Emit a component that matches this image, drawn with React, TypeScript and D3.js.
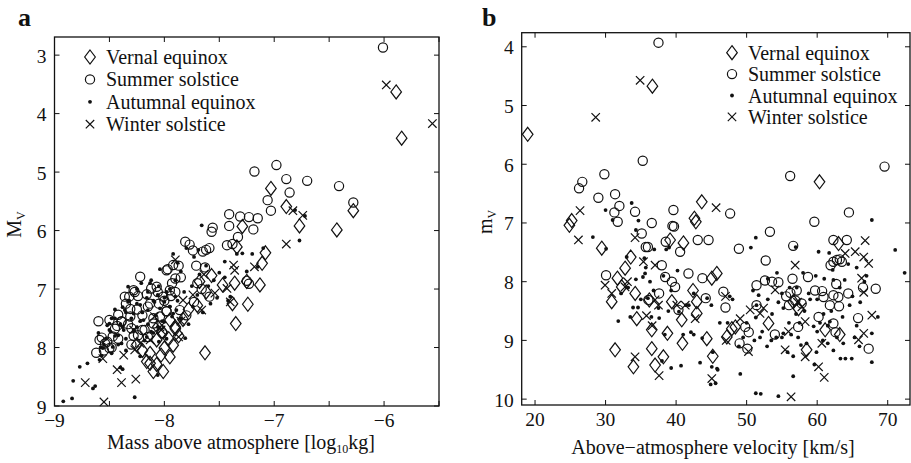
import React from "react";
import * as d3 from "d3";

type Pt = [number, number];

// panel a: mass above atmosphere [log10 kg] vs absolute magnitude M_V
const vernalA: Pt[] = [
  [-5.89, 3.63], [-5.84, 4.42], [-7.03, 5.28], [-6.89, 5.59], [-6.28, 5.66], [-6.77, 5.92], [-6.43, 5.99],
  [-7.08, 6.38], [-7.11, 6.56], [-7.13, 6.93], [-7.25, 6.87], [-7.36, 6.9], [-7.24, 7.26], [-7.38, 7.25],
  [-7.35, 7.59], [-7.63, 8.09], [-7.29, 5.93], [-7.34, 6.28], [-7.47, 6.93], [-7.57, 6.77], [-7.68, 6.87],
  [-7.62, 7.05], [-8.16, 8.24], [-8.1, 8.41], [-8.01, 8.41], [-8.03, 8.13], [-8.13, 8.1], [-7.92, 7.96],
  [-8.02, 7.73], [-7.96, 7.85], [-8.2, 8.05], [-8.07, 8.29], [-7.87, 7.8], [-7.83, 7.52], [-7.9, 7.68],
  [-7.78, 7.35], [-7.7, 7.28], [-8.25, 7.95], [-8.06, 7.65], [-7.95, 7.53], [-7.9, 7.65], [-8.07, 7.87],
  [-8.0, 8.01], [-8.13, 8.27], [-7.95, 8.16],
];
const summerA: Pt[] = [
  [-6.01, 2.87], [-6.41, 5.24], [-6.28, 5.52], [-6.7, 5.15], [-6.89, 5.12], [-6.86, 5.35], [-6.98, 4.88],
  [-7.18, 4.99], [-7.03, 5.66], [-7.06, 5.48], [-7.15, 5.79], [-7.23, 5.77], [-7.31, 5.76], [-7.41, 5.72],
  [-7.19, 5.98], [-7.41, 5.92], [-7.56, 5.95], [-7.57, 6.02], [-7.33, 6.11], [-7.38, 6.23], [-7.43, 6.25],
  [-7.62, 6.33], [-7.59, 6.3], [-7.65, 6.36], [-7.81, 6.19], [-7.77, 6.24], [-7.74, 6.34], [-7.63, 6.63],
  [-7.71, 6.6], [-7.87, 6.6], [-7.97, 6.66], [-8.22, 6.79], [-7.25, 6.86], [-7.23, 6.91], [-7.59, 7.13],
  [-7.86, 7.36], [-7.73, 7.22], [-7.8, 7.45], [-8.62, 8.09], [-8.57, 7.83], [-8.5, 7.53], [-8.42, 7.44],
  [-8.31, 7.34], [-8.28, 7.02], [-8.24, 7.12], [-8.12, 6.99], [-8.06, 7.05], [-7.98, 6.68], [-7.93, 6.9],
  [-7.98, 7.38], [-8.05, 7.25], [-8.15, 7.3], [-8.1, 7.5], [-8.36, 7.13], [-8.39, 7.55], [-8.45, 7.68],
  [-8.33, 7.6], [-8.52, 7.9], [-8.48, 8.0], [-8.42, 7.85], [-8.55, 8.05], [-8.28, 7.8], [-8.2, 7.7],
  [-8.15, 7.82], [-8.3, 7.95], [-7.94, 7.12], [-8.6, 7.55], [-8.02, 7.75], [-7.9, 7.05], [-8.0, 7.2],
  [-7.85, 6.8], [-8.35, 7.25], [-8.2, 7.45], [-7.7, 6.9], [-7.66, 7.0], [-8.32, 7.13], [-8.25, 7.35],
  [-8.16, 7.09], [-8.13, 7.25], [-8.07, 6.96], [-8.01, 7.13], [-7.95, 7.02], [-7.9, 6.82], [-7.92, 6.59],
  [-8.43, 7.63], [-8.39, 7.56], [-8.47, 7.81], [-8.54, 7.93], [-8.5, 8.01], [-8.59, 7.87], [-8.3, 7.67],
  [-8.24, 7.79], [-8.18, 7.7], [-8.1, 7.59], [-8.04, 7.47], [-7.98, 7.38], [-8.27, 7.05], [-8.31, 7.47],
];
const autumnalA: Pt[] = [
  [-6.77, 6.17], [-6.81, 5.65], [-6.72, 5.75], [-7.66, 5.91], [-8.92, 8.92], [-8.84, 8.87], [-8.83, 8.57],
  [-8.77, 8.33], [-8.7, 8.27], [-8.65, 8.7], [-8.63, 8.66], [-8.59, 8.21], [-8.57, 8.14], [-8.27, 8.85],
  [-8.4, 8.34], [-8.38, 8.37], [-8.06, 8.47], [-8.04, 6.66], [-7.92, 6.4], [-8.21, 6.9], [-8.38, 7.31],
  [-7.45, 6.53], [-7.29, 6.39], [-7.34, 6.4], [-7.69, 6.33], [-7.4, 7.13], [-7.42, 7.2], [-7.65, 7.4],
  [-7.74, 7.3], [-7.81, 7.84], [-7.78, 7.6], [-7.85, 7.5], [-7.5, 6.72], [-7.55, 6.85], [-7.6, 6.95],
  [-7.73, 6.45], [-7.8, 6.3], [-7.85, 6.7], [-7.9, 6.85], [-7.95, 7.0], [-8.0, 7.15], [-8.05, 6.95],
  [-8.1, 7.2], [-8.15, 7.05], [-8.2, 7.4], [-8.25, 7.25], [-8.3, 7.5], [-8.35, 7.4], [-8.4, 7.6],
  [-8.45, 7.8], [-8.5, 7.7], [-8.55, 7.95], [-8.48, 8.1], [-8.42, 7.95], [-8.35, 7.85], [-8.28, 7.7],
  [-8.22, 7.55], [-8.15, 7.6], [-8.08, 7.45], [-8.02, 7.55], [-7.95, 7.3], [-7.88, 7.2], [-7.82, 7.05],
  [-7.75, 6.95], [-7.68, 6.75], [-7.62, 6.6], [-7.98, 7.85], [-8.1, 7.75], [-8.18, 7.88], [-8.32, 7.2],
  [-8.45, 7.35], [-8.6, 7.75], [-8.58, 8.0], [-8.52, 7.62], [-8.12, 6.85], [-8.25, 7.0], [-7.88, 6.55],
  [-7.7, 7.1], [-7.58, 7.25], [-7.52, 7.15], [-7.45, 6.8], [-7.2, 6.4], [-7.15, 6.62], [-7.25, 6.7],
  [-7.1, 6.3], [-7.98, 7.05], [-8.06, 7.1], [-8.16, 7.15], [-8.38, 7.65], [-8.05, 7.9], [-7.92, 7.42],
  [-8.48, 7.5], [-8.35, 8.05], [-8.22, 8.15], [-8.33, 7.22], [-8.28, 7.42], [-8.22, 7.27], [-8.19, 7.53],
  [-8.15, 7.36], [-8.09, 7.22], [-8.04, 7.33], [-8.0, 7.22], [-7.95, 7.3], [-7.9, 7.13], [-8.37, 7.7],
  [-8.42, 7.79], [-8.49, 7.73], [-8.53, 7.85], [-8.56, 8.01], [-8.47, 7.99], [-8.39, 7.93], [-8.25, 7.65],
  [-8.16, 7.82], [-8.12, 7.73], [-8.06, 7.65], [-8.0, 7.56], [-7.93, 7.47], [-7.89, 7.36], [-8.33, 6.96],
  [-8.13, 6.9], [-8.36, 7.36], [-8.45, 7.5], [-8.5, 7.59],
];
const winterA: Pt[] = [
  [-5.98, 3.51], [-5.56, 4.17], [-6.74, 5.74], [-6.83, 5.66], [-6.89, 6.23], [-7.18, 6.62], [-7.37, 6.59],
  [-7.36, 6.68], [-7.4, 7.22], [-7.43, 6.99], [-7.54, 7.07], [-7.66, 7.36], [-7.83, 7.19], [-7.87, 7.82],
  [-7.85, 7.55], [-7.9, 6.5], [-8.26, 8.54], [-8.39, 8.6], [-8.43, 8.38], [-8.37, 8.13], [-8.56, 8.19],
  [-8.72, 8.6], [-8.55, 8.93], [-8.27, 8.04], [-8.03, 7.7], [-8.09, 7.47], [-7.64, 6.75], [-7.74, 7.1],
  [-8.13, 7.87], [-8.28, 7.7], [-8.22, 7.93], [-8.04, 7.65],
];

// panel b: above-atmosphere velocity [km/s] vs apparent magnitude m_V
const vernalB: Pt[] = [
  [18.96, 5.49], [36.64, 4.67], [24.87, 7.04], [25.2, 6.96], [29.46, 7.43], [43.64, 6.64], [42.6, 6.92],
  [42.8, 6.98], [41.04, 7.34], [39.15, 7.29], [33.57, 7.58], [32.77, 7.77], [31.68, 7.94], [30.87, 8.34],
  [32.29, 8.09], [34.2, 8.2], [34.42, 8.63], [31.35, 9.16], [33.95, 9.45], [36.55, 8.82], [36.55, 9.14],
  [37.02, 9.42], [38.2, 9.28], [38.77, 8.88], [39.39, 8.34], [40.8, 8.65], [40.9, 9.05], [44.35, 8.97],
  [45.2, 9.27], [42.93, 8.54], [42.93, 8.34], [45.06, 7.94], [45.77, 7.86], [47.19, 8.94], [47.9, 8.8],
  [36.2, 8.31], [53.1, 8.71], [60.33, 6.3], [63.03, 7.35], [61.13, 8.82], [58.5, 9.16], [56.6, 8.34],
  [57.35, 8.46], [48.4, 8.77], [42.4, 8.15], [63.2, 8.9],
];
const summerB: Pt[] = [
  [37.5, 3.93], [35.27, 5.94], [29.83, 6.17], [26.7, 6.3], [26.24, 6.41], [28.98, 6.57], [31.35, 6.51],
  [31.96, 6.71], [31.25, 6.82], [31.72, 6.98], [34.18, 6.81], [36.55, 7.0], [39.62, 6.78], [39.48, 7.05],
  [39.7, 7.06], [35.13, 7.18], [35.7, 7.41], [36.0, 7.41], [38.53, 7.32], [40.57, 7.49], [43.07, 7.29],
  [44.6, 7.29], [47.66, 6.84], [37.97, 7.72], [38.45, 7.92], [39.4, 8.0], [39.86, 8.09], [41.75, 7.86],
  [43.73, 7.94], [44.2, 8.28], [37.59, 8.2], [36.07, 8.31], [30.07, 7.89], [40.33, 8.48], [46.7, 8.17],
  [47.0, 8.44], [48.9, 7.44], [52.7, 7.64], [53.3, 7.15], [49.8, 8.77], [50.3, 8.86], [50.1, 9.14],
  [49.0, 9.05], [54.0, 8.9], [51.4, 8.06], [52.6, 7.98], [53.6, 8.0], [54.5, 8.01], [51.4, 8.4],
  [56.17, 6.2], [56.6, 7.39], [56.5, 7.95], [58.7, 7.92], [59.6, 6.98], [64.5, 6.82], [69.55, 6.04],
  [62.3, 7.29], [64.2, 7.29], [62.3, 7.66], [62.8, 7.63], [63.2, 7.62], [61.9, 7.72], [63.5, 7.66],
  [62.7, 8.04], [56.2, 8.19], [57.1, 8.15], [56.9, 8.32], [57.8, 8.37], [59.7, 8.15], [60.7, 8.16],
  [60.9, 8.26], [62.3, 8.23], [63.0, 8.26], [61.8, 8.4], [63.1, 8.42], [64.4, 8.2], [66.5, 8.1],
  [68.3, 8.12], [65.8, 8.62], [67.3, 9.14], [62.6, 8.86], [62.3, 8.71], [60.2, 8.6], [57.3, 8.77],
  [55.6, 8.25], [56.0, 8.4],
];
const autumnalB: Pt[] = [
  [33.7, 6.66], [34.66, 6.96], [28.2, 7.24], [30.07, 7.44], [34.3, 7.12], [33.0, 7.58], [35.7, 7.76],
  [35.3, 7.92], [35.6, 7.86], [34.3, 7.96], [36.3, 8.0], [40.2, 7.81], [36.8, 8.15], [36.0, 8.28],
  [35.0, 8.3], [34.6, 8.44], [33.9, 8.44], [37.6, 8.62], [40.4, 8.51], [41.4, 8.4], [41.8, 8.4],
  [42.5, 8.2], [31.8, 8.67], [42.1, 8.86], [42.5, 8.9], [43.7, 8.96], [45.0, 8.4], [44.4, 8.28],
  [45.2, 9.2], [43.4, 9.38], [39.3, 9.47], [40.7, 9.43], [45.06, 9.45], [45.8, 9.48], [44.9, 9.75],
  [45.6, 9.73], [38.0, 9.35], [38.4, 8.9], [33.2, 8.1], [32.2, 8.2], [38.9, 8.5], [39.3, 8.15],
  [38.2, 7.9], [36.9, 7.45], [30.0, 6.78], [31.0, 6.95], [39.0, 7.42], [38.6, 7.45], [37.5, 8.45],
  [35.5, 7.6], [33.5, 8.6], [36.5, 8.6], [41.0, 8.9], [51.3, 7.25], [50.6, 7.42], [56.95, 7.41],
  [60.2, 7.49], [61.7, 7.51], [67.75, 6.95], [71.06, 7.46], [72.4, 7.85], [63.9, 7.97], [62.3, 7.97],
  [65.6, 7.76], [51.7, 8.23], [53.0, 8.3], [55.0, 8.2], [54.5, 8.35], [56.1, 8.1], [51.4, 8.4],
  [51.3, 8.61], [51.1, 9.0], [51.9, 8.95], [55.2, 8.88], [56.3, 8.9], [56.6, 9.27], [57.7, 9.08],
  [56.6, 9.61], [59.6, 9.41], [60.8, 9.0], [62.3, 9.17], [63.3, 9.31], [64.0, 9.31], [64.9, 9.31],
  [67.75, 9.37], [68.6, 8.6], [67.75, 8.88], [59.5, 8.76], [60.0, 8.85], [61.8, 8.68], [63.7, 9.05],
  [65.3, 8.95], [49.1, 9.57], [51.3, 9.9], [52.0, 9.91], [54.5, 9.95], [45.9, 9.5], [53.5, 9.0],
  [54.2, 8.95], [55.0, 8.95], [52.9, 9.1], [53.6, 8.55], [52.2, 8.85], [57.0, 8.55], [57.5, 8.7],
  [58.2, 8.5], [59.0, 8.3], [58.8, 8.2], [60.0, 8.3], [60.9, 8.55], [61.5, 8.75], [62.0, 8.5],
  [60.4, 8.7], [63.6, 8.6], [64.6, 8.4], [65.0, 8.25], [66.1, 8.35], [65.6, 8.75], [63.2, 8.1],
  [59.8, 7.9], [58.0, 7.85], [61.0, 7.95], [62.2, 7.8], [64.4, 7.7], [67.0, 7.9], [66.7, 8.0],
  [57.3, 8.95], [56.0, 8.7], [55.2, 8.45], [58.5, 9.05], [61.5, 9.05], [59.9, 9.2], [66.0, 9.1],
  [53.0, 7.95], [50.9, 8.15], [50.0, 8.7], [49.5, 8.95], [48.0, 8.3], [47.6, 8.25], [48.9, 9.1],
  [54.3, 7.85], [57.1, 8.1], [55.8, 9.2], [62.8, 8.95], [46.2, 8.7], [47.3, 8.7],
];
const winterB: Pt[] = [
  [34.9, 4.57], [28.6, 5.2], [26.38, 6.79], [26.15, 7.29], [34.18, 7.25], [35.37, 7.66], [37.02, 7.72],
  [45.67, 6.74], [29.93, 8.06], [30.87, 8.2], [32.77, 8.09], [37.02, 8.31], [37.5, 8.4], [35.8, 8.58],
  [34.18, 9.28], [37.59, 9.6], [45.06, 9.65], [42.7, 8.63], [40.1, 8.4], [41.3, 8.4], [49.08, 8.63],
  [50.5, 8.48], [50.26, 9.19], [51.9, 8.54], [54.04, 8.14], [55.46, 9.16], [55.93, 8.85], [56.3, 9.96],
  [56.88, 7.72], [58.3, 8.68], [58.3, 9.28], [60.2, 9.45], [61.0, 9.63], [60.66, 9.05], [63.97, 7.52],
  [65.39, 7.49], [66.8, 7.3], [66.6, 7.58], [67.3, 7.69], [66.3, 7.94], [66.6, 8.18], [67.75, 8.57],
  [66.6, 8.88], [65.86, 8.99], [57.83, 8.43], [57.2, 8.35], [47.0, 8.25], [52.4, 8.45], [33.1, 8.0],
  [36.6, 8.75], [47.1, 9.0],
];

const seriesNames = ["Vernal equinox", "Summer solstice", "Autumnal equinox", "Winter solstice"];
const ticksA = { x: [-9, -8, -7, -6], xMinor: d3.range(-9, -5.4, 0.5), y: [3, 4, 5, 6, 7, 8, 9] };
const ticksB = { x: [20, 30, 40, 50, 60, 70], xMinor: [20, 30, 40, 50, 60, 70], y: [4, 5, 6, 7, 8, 9, 10] };

const FONT = "'Liberation Serif', 'Times New Roman', serif";
const INK = "#111";

function Marker({ kind, x, y }: { kind: number; x: number; y: number }) {
  if (kind === 0)
    return <path d={`M${x},${y - 7}L${x + 5.3},${y}L${x},${y + 7}L${x - 5.3},${y}Z`} fill="none" stroke={INK} strokeWidth={1.2} />;
  if (kind === 1) return <circle cx={x} cy={y} r={4.6} fill="none" stroke={INK} strokeWidth={1.2} />;
  if (kind === 2) return <circle cx={x} cy={y} r={1.9} fill={INK} />;
  const s = 4.2;
  return (
    <path d={`M${x - s},${y - s}L${x + s},${y + s}M${x - s},${y + s}L${x + s},${y - s}`} stroke={INK} strokeWidth={1.2} />
  );
}

function Panel(props: {
  left: number; right: number; top: number; bottom: number;
  xDomain: [number, number]; yDomain: [number, number];
  ticks: { x: number[]; xMinor: number[]; y: number[] };
  series: Pt[][];
  letter: string; letterX: number;
  yLabel: string; yLabelX: number;
  xLabel: React.ReactNode; xLabelX: number; xLabelY: number;
  legendX: number; legendY: number; legendStep: number;
  fmt: (v: number) => string;
}) {
  const { left, right, top, bottom, ticks } = props;
  const x = d3.scaleLinear().domain(props.xDomain).range([left, right]);
  const y = d3.scaleLinear().domain(props.yDomain).range([top, bottom]);
  const tl = 5;
  return (
    <g fontFamily={FONT} fill={INK}>
      <text x={props.letterX} y={26} fontSize={26} fontWeight="bold">{props.letter}</text>
      {props.series.map((pts, k) => (
        <g key={k}>
          {pts.map((p, i) => <Marker key={i} kind={k} x={x(p[0])} y={y(p[1])} />)}
        </g>
      ))}
      <rect x={left} y={top} width={right - left} height={bottom - top} fill="none" stroke={INK} strokeWidth={1.3} />
      {ticks.xMinor.map((t) => (
        <g key={"xm" + t} stroke={INK}>
          <line x1={x(t)} x2={x(t)} y1={bottom} y2={bottom - tl} />
          <line x1={x(t)} x2={x(t)} y1={top} y2={top + tl} />
        </g>
      ))}
      {ticks.y.map((t) => (
        <g key={"y" + t} stroke={INK}>
          <line x1={left} x2={left + tl} y1={y(t)} y2={y(t)} />
          <line x1={right} x2={right - tl} y1={y(t)} y2={y(t)} />
        </g>
      ))}
      {ticks.x.map((t) => (
        <text key={"xl" + t} x={x(t)} y={bottom + 21} fontSize={19.5} textAnchor="middle">{props.fmt(t)}</text>
      ))}
      {ticks.y.map((t) => (
        <text key={"yl" + t} x={left - 8} y={y(t) + 7.5} fontSize={19.5} textAnchor="end">{t}</text>
      ))}
      <text x={props.xLabelX} y={props.xLabelY} fontSize={20} textAnchor="middle">{props.xLabel}</text>
      <text transform={`translate(${props.yLabelX},${(top + bottom) / 2 + 3}) rotate(-90)`} fontSize={20} textAnchor="middle">
        {props.yLabel}
        <tspan fontSize={12} dy={4}>V</tspan>
      </text>
      {seriesNames.map((name, k) => {
        const cy = props.legendY + k * props.legendStep;
        return (
          <g key={name}>
            <Marker kind={k} x={props.legendX} y={cy} />
            <text x={props.legendX + 16} y={cy + 7} fontSize={20}>{name}</text>
          </g>
        );
      })}
    </g>
  );
}

export default function App() {
  const fmtA = (v: number) => (v < 0 ? "\u2212" + Math.abs(v) : String(v));
  return (
    <svg width={911} height={463} style={{ position: "absolute", left: 0, top: 0, background: "#fff" }}>
      <Panel
        left={54.5} right={439} top={37} bottom={406}
        xDomain={[-9, -5.5]} yDomain={[2.69, 9]}
        ticks={ticksA}
        series={[vernalA, summerA, autumnalA, winterA]}
        letter="a" letterX={18}
        yLabel="M" yLabelX={21}
        xLabel={<>Mass above atmosphere [log<tspan fontSize={12} dy={4}>10</tspan><tspan dy={-4}>kg]</tspan></>}
        xLabelX={241} xLabelY={449}
        legendX={90} legendY={57} legendStep={22.4}
        fmt={fmtA}
      />
      <Panel
        left={521.7} right={910} top={32.7} bottom={405}
        xDomain={[18.11, 73.16]} yDomain={[3.76, 10.1]}
        ticks={ticksB}
        series={[vernalB, summerB, autumnalB, winterB]}
        letter="b" letterX={482}
        yLabel="m" yLabelX={492}
        xLabel={"Above\u2212atmosphere velocity [km/s]"}
        xLabelX={713} xLabelY={454}
        legendX={732} legendY={52.7} legendStep={21.4}
        fmt={(v) => String(v)}
      />
    </svg>
  );
}
